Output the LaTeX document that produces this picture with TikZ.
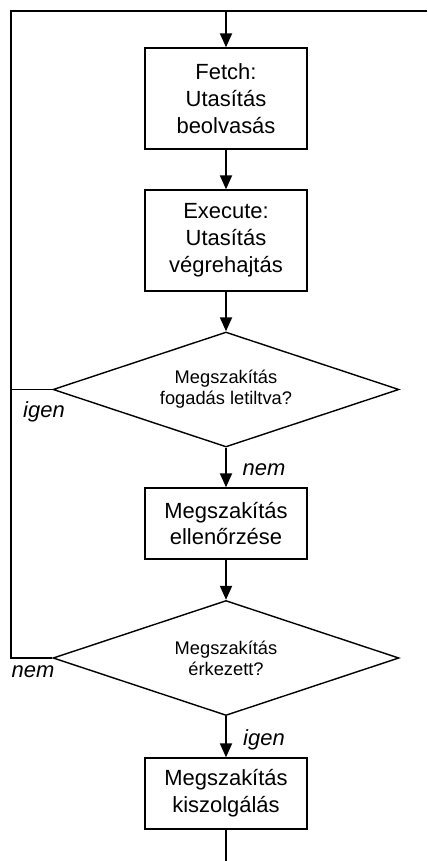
\documentclass[tikz,border=0pt]{standalone}
\usepackage{fontspec}
\setmainfont{Liberation Sans}
\usetikzlibrary{shapes.geometric,arrows.meta}

\begin{document}
\begin{tikzpicture}[x=0.02cm, y=-0.02cm,
    box/.style = {draw, line width=0.8pt, rectangle, minimum width=3.24cm, inner sep=0pt, align=center, font=\fontsize{12.5}{15.3}\selectfont},
    decision/.style = {draw, line width=0.8pt, diamond, aspect=3, minimum width=6.92cm, minimum height=2.3cm, inner sep=0pt, align=center, font=\fontsize{10.4}{11.9}\selectfont},
    lbl/.style = {font=\fontsize{12.5}{15}\selectfont\itshape},
    line/.style = {line width=1.1pt},
    arr/.style = {line width=1.1pt, -{Triangle[length=0.28cm, width=0.24cm]}}]
    \useasboundingbox (0,0) rectangle (427,861);

    \coordinate (topleft) at (11,11);
    \coordinate (top) at (226,11);
    \coordinate (topright) at (427,11);
    \coordinate (bottom) at (226,861);

    \node[box, minimum height=2.02cm] (fetch) at (226,98.5) {Fetch:\\Utasítás\\beolvasás};
    \node[box, minimum height=2.02cm] (execute) at (226,240.5) {Execute:\\Utasítás\\végrehajtás};
    \node[decision] (tiltva) at (226,389.5) {Megszakítás\\fogadás letiltva?};
    \node[box, minimum height=1.42cm] (ellenorzes) at (226,523.5) {Megszakítás\\ellenőrzése};
    \node[decision] (erkezett) at (226,658) {Megszakítás\\érkezett?};
    \node[box, minimum height=1.42cm] (kiszolgalas) at (226,793.5) {Megszakítás\\kiszolgálás};

    \draw[arr] (top) -- (fetch);
    \draw[arr] (fetch) -- (execute);
    \draw[arr] (execute) -- (tiltva);
    \draw[arr] (tiltva) -- (ellenorzes);
    \draw[arr] (ellenorzes) -- (erkezett);
    \draw[arr] (erkezett) -- (kiszolgalas);
    \draw[line] (kiszolgalas) -- (bottom);

    \draw[line] (erkezett.west) -- (erkezett.west -| topleft) -- (topleft) -- (topright);
    \draw[line] (tiltva.west) -- (tiltva.west -| topleft);

    \node[lbl] (igen1) at (44,412) {igen};
    \node[lbl] (nem1) at (264,470) {nem};
    \node[lbl] (nem2) at (33,672) {nem};
    \node[lbl] (igen2) at (264,740) {igen};

\end{tikzpicture}
\end{document}
